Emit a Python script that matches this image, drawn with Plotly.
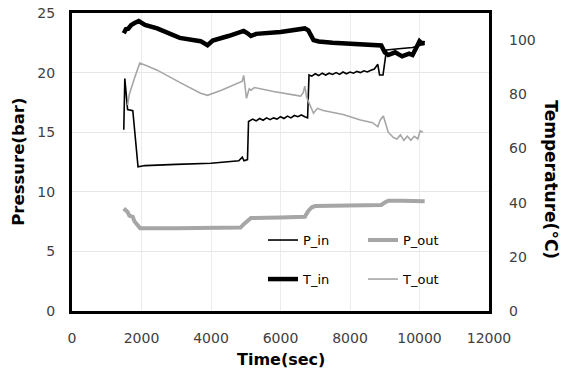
import plotly.graph_objects as go

# ---------------- data ----------------
p_in_t = [1490, 1520, 1600, 1750, 1900, 2100, 3000, 4000, 4800, 4900, 4950, 5050,
          5080, 5200, 5300, 5400, 5500, 5600, 5700, 5800, 5900, 6000, 6100, 6200, 6300,
          6400, 6500, 6600, 6700, 6780,
          6820, 6900, 7000, 7100, 7200, 7300, 7400, 7500, 7600, 7700, 7800, 7900, 8000,
          8100, 8200, 8300, 8400, 8500, 8600, 8700, 8800, 8850, 8950, 9050, 9400, 9800, 10150]
p_in = [15.2, 19.5, 16.9, 16.8, 12.1, 12.2, 12.3, 12.4, 12.6, 12.9, 12.6, 12.7,
        15.9, 16.1, 15.95, 16.15, 16.0, 16.2, 16.05, 16.2, 16.1, 16.3, 16.15, 16.35, 16.2,
        16.4, 16.3, 16.45, 16.3, 16.2,
        19.8, 19.7, 19.9, 19.75, 19.95, 19.8, 19.95, 19.85, 20.0, 19.85, 20.05, 19.9, 20.05,
        19.95, 20.1, 20.0, 20.15, 20.05, 20.2, 20.3, 20.7, 19.8, 19.8, 21.9, 22.0, 22.1, 22.4]

p_out_t = [1490, 1600, 1650, 1750, 1800, 1900, 1960, 3000, 4000, 4850, 4950, 5050, 5150,
           6000, 6700, 6800, 6900, 7000, 8000, 8900, 9000, 9100, 9500, 10150]
p_out = [8.6, 8.3, 8.0, 7.9, 7.5, 7.2, 6.95, 6.95, 7.0, 7.0, 7.3, 7.6, 7.8,
         7.85, 7.9, 8.4, 8.7, 8.8, 8.85, 8.9, 9.1, 9.25, 9.25, 9.2]

t_in_t = [1490, 1550, 1620, 1700, 1800, 1920, 2100, 2450, 3100, 3700, 3900, 4050, 4500,
          4940, 5050, 5150, 5300, 6000, 6700, 6800, 6950, 7100, 7500, 8000, 8500, 8900,
          9000, 9100, 9300, 9500, 9700, 9800, 9900, 10000, 10050, 10150]
t_in = [102.5, 104.0, 104.2, 105.5, 106.3, 107.0, 105.6, 104.3, 100.8, 99.6, 98.1, 99.8, 101.5,
        103.4, 102.5, 101.5, 102.3, 103.0, 104.3, 103.6, 100.0, 99.5, 99.0, 98.5, 98.2, 98.0,
        95.5, 94.5, 95.5, 94.0, 95.0, 94.5, 97.0, 99.6, 99.0, 98.8]

t_out_t = [1600, 1650, 1800, 1950, 2150, 2450, 3100, 3700, 3900, 4300, 4900, 4940, 4970,
           5020, 5100, 5150, 5250, 5800, 6500, 6580, 6650, 6700, 6750, 6800, 6870, 6950,
           7060, 7230, 7800, 8300, 8650, 8800, 8870, 8960, 9100, 9250, 9350, 9450, 9550,
           9650, 9750, 9850, 9950, 10020, 10100]
t_out = [76, 80, 86, 91.5, 90.5, 88.9, 84.4, 80.4, 79.6, 81.5, 84.8, 87, 84,
         78.5, 82, 81.5, 82.5, 81, 79.5, 79.3, 80.5, 83, 79, 77.5, 76, 73,
         74.8, 74, 72.5, 70.5, 69.5, 68, 70.5, 72, 66, 64, 63.5, 65, 63,
         64.5, 63, 64.5, 63.5, 66.5, 66]

x_ticks = [0, 2000, 4000, 6000, 8000, 10000, 12000]
x_labels = ["0", "2000", "4000", "6000", "8000", "10000", "12000"]
p_ticks = [0, 5, 10, 15, 20, 25]
t_ticks = [0, 20, 40, 60, 80, 100]

FONT = "DejaVu Sans"
TICKCOL = "#404040"

fig = go.Figure()
fig.add_trace(go.Scatter(x=p_in_t, y=p_in, name="P_in", mode="lines",
                         line=dict(color="black", width=1.6), legend="legend"))
fig.add_trace(go.Scatter(x=p_out_t, y=p_out, name="P_out", mode="lines",
                         line=dict(color="#a6a6a6", width=4), legend="legend"))
fig.add_trace(go.Scatter(x=t_in_t, y=t_in, name="T_in", mode="lines", yaxis="y2",
                         line=dict(color="black", width=4.5), legend="legend2"))
fig.add_trace(go.Scatter(x=t_out_t, y=t_out, name="T_out", mode="lines", yaxis="y2",
                         line=dict(color="#a6a6a6", width=1.6), legend="legend2"))

fig.update_layout(
    width=565, height=373,
    margin=dict(l=72, r=76, t=13, b=62, autoexpand=False),
    paper_bgcolor="white", plot_bgcolor="white",
    font=dict(family=FONT, size=14, color=TICKCOL),
    xaxis=dict(range=[0, 12000], tickvals=x_ticks, ticktext=x_labels, showline=True,
               linecolor="black", linewidth=3, mirror=True, showgrid=True,
               gridcolor="#ececec", zeroline=False, ticks="", ticklabelstandoff=12,
               tickfont=dict(size=14, color=TICKCOL)),
    yaxis=dict(range=[0, 25], tickvals=p_ticks, showline=True, linecolor="black",
               linewidth=3, mirror=True, showgrid=True, gridcolor="#e6e6e6", zeroline=False,
               ticks="", ticklabelstandoff=11, ticklabeloverflow="allow",
               tickfont=dict(size=14, color=TICKCOL)),
    yaxis2=dict(range=[0, 110], tickvals=t_ticks, overlaying="y", side="right",
                showline=False, showgrid=False, zeroline=False, ticks="",
                ticklabelstandoff=19, tickfont=dict(size=14, color=TICKCOL)),
    legend=dict(orientation="h", x=0.458, y=0.238, xanchor="left", yanchor="middle",
                entrywidth=55, bgcolor="rgba(0,0,0,0)",
                font=dict(family=FONT, size=13, color="black")),
    legend2=dict(orientation="h", x=0.458, y=0.107, xanchor="left", yanchor="middle",
                 entrywidth=55, bgcolor="rgba(0,0,0,0)",
                 font=dict(family=FONT, size=13, color="black")),
    annotations=[
        dict(text="<b>Time(sec)</b>", xref="paper", yref="paper", x=0.5, y=-0.164,
             xanchor="center", yanchor="middle", showarrow=False,
             font=dict(family=FONT, size=16, color="black")),
        dict(text="<b>Pressure(bar)</b>", xref="paper", yref="paper", x=-0.13, y=0.5,
             xanchor="center", yanchor="middle", showarrow=False, textangle=-90,
             font=dict(family=FONT, size=16.5, color="black")),
        dict(text="<b>Temperature(°C)</b>", xref="paper", yref="paper", x=1.15, y=0.44,
             xanchor="center", yanchor="middle", showarrow=False, textangle=90,
             font=dict(family=FONT, size=17, color="black")),
    ],
)

# remove the page's default body margin so the figure sits at the window's top-left
fig.write_html("out.html", config={"displayModeBar": False},
               post_script="document.body.style.margin='0';")
